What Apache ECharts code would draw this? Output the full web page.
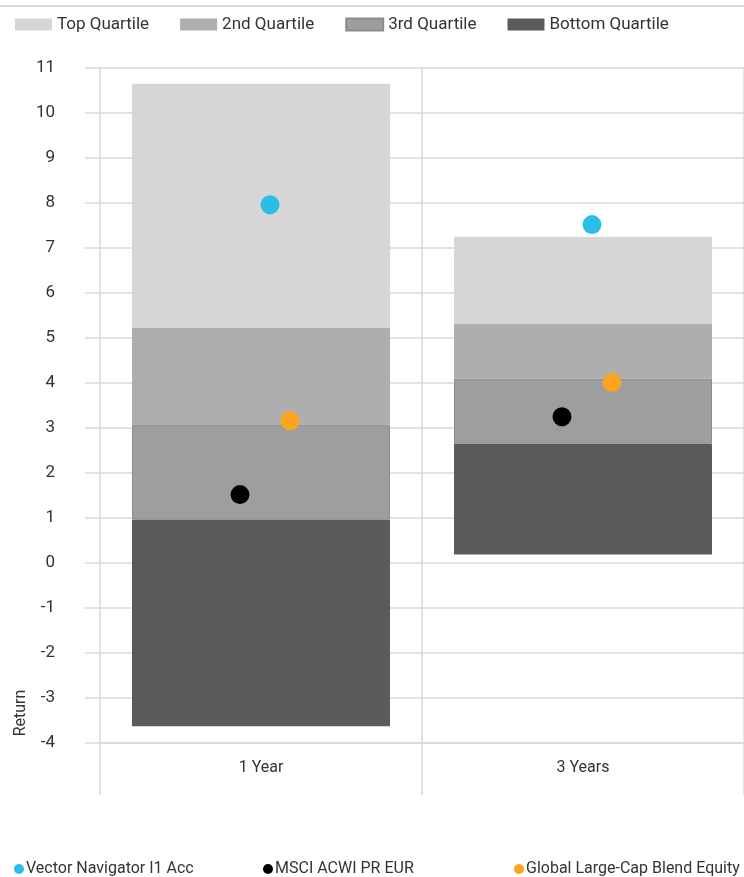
<!DOCTYPE html>
<html>
<head>
<meta charset="utf-8">
<script src="https://cdn.jsdelivr.net/npm/echarts@6/dist/echarts.min.js"></script>
<style>
html,body{margin:0;padding:0;background:#fff;}
#chart{width:744px;height:877px;}
</style>
</head>
<body>
<div id="chart"></div>
<script>
// ---- data ----
const categories = ['1 Year', '3 Years'];
const rangeMin = [-3.63, 0.19];      // bottom of Bottom Quartile
const bottomUpper = [0.96, 2.65];    // Bottom / 3rd boundary
const thirdUpper = [3.08, 4.10];     // 3rd / 2nd boundary
const secondUpper = [5.22, 5.31];    // 2nd / Top boundary
const rangeMax = [10.65, 7.25];      // top of Top Quartile
const fundReturn = [7.96, 7.52];     // Vector Navigator I1 Acc
const indexReturn = [1.52, 3.25];    // MSCI ACWI PR EUR
const peerReturn = [3.16, 4.01];     // Global Large-Cap Blend Equity
const yMin = -4, yMax = 11, yStep = 1;

const FONT = 'Roboto, "Noto Sans", sans-serif';
const TXT = '#333333';
const GRIDC = '#d9d9d9';

const diff = (hi, lo) => hi.map((v, i) => +(v - lo[i]).toFixed(4));

const barBase = { type: 'bar', stack: 'q', stackStrategy: 'all', barWidth: 258, silent: true, emphasis: { disabled: true } };
const bottomLegend = (name, left) => ({
  data: [name], left: left, top: 856, icon: 'circle', itemWidth: 10, itemHeight: 10, itemGap: 0,
  textStyle: { fontFamily: FONT, fontSize: 16, color: TXT, padding: [0, 0, 0, -3] }, selectedMode: false
});

const chart = echarts.init(document.getElementById('chart'), null, { renderer: 'canvas' });
chart.setOption({
  animation: false,
  textStyle: { fontFamily: FONT },
  graphic: [
    { type: 'rect', shape: { x: 0, y: 5, width: 744, height: 2 }, style: { fill: GRIDC }, silent: true },
    { type: 'text', x: 21, y: 713, rotation: Math.PI / 2,
      style: { text: 'Return', font: '16px ' + FONT, fill: TXT, align: 'center', verticalAlign: 'middle' } }
  ],
  legend: [
    { data: ['Top Quartile', '2nd Quartile', '3rd Quartile', 'Bottom Quartile'],
      left: 10, top: 11, icon: 'rect', itemWidth: 37, itemHeight: 12, itemGap: 31,
      textStyle: { fontFamily: FONT, fontSize: 17, color: TXT }, selectedMode: false },
    bottomLegend('Vector Navigator I1 Acc', 9),
    bottomLegend('MSCI ACWI PR EUR', 258),
    bottomLegend('Global Large-Cap Blend Equity', 509)
  ],
  grid: { left: 100, right: 0, top: 68, bottom: 134, containLabel: false },
  xAxis: {
    type: 'category', data: categories, boundaryGap: true,
    axisLine: { show: true, onZero: false, lineStyle: { color: GRIDC, width: 1.5 } },
    axisTick: { show: true, interval: 0, length: 52, lineStyle: { color: GRIDC, width: 1.5 } },
    splitLine: { show: true, interval: 0, lineStyle: { color: GRIDC, width: 1.5 } },
    axisLabel: { fontFamily: FONT, fontSize: 16, color: TXT, margin: 17 }
  },
  yAxis: {
    type: 'value', min: yMin, max: yMax, interval: yStep,
    axisLine: { show: false },
    axisTick: { show: true, length: 15, lineStyle: { color: GRIDC, width: 1.5 } },
    splitLine: { show: true, lineStyle: { color: GRIDC, width: 1.5 } },
    axisLabel: { fontFamily: FONT, fontSize: 17, color: TXT, margin: 45 }
  },
  series: [
    Object.assign({}, barBase, { name: 'base', data: rangeMin, itemStyle: { color: 'transparent' } }),
    Object.assign({}, barBase, { name: 'Bottom Quartile', data: diff(bottomUpper, rangeMin), itemStyle: { color: '#5a5b5d' } }),
    Object.assign({}, barBase, { name: '3rd Quartile', data: diff(thirdUpper, bottomUpper), itemStyle: { color: '#9d9e9f', borderColor: '#8b8c8d', borderWidth: 1 } }),
    Object.assign({}, barBase, { name: '2nd Quartile', data: diff(secondUpper, thirdUpper), itemStyle: { color: '#aeaeaf' } }),
    Object.assign({}, barBase, { name: 'Top Quartile', data: diff(rangeMax, secondUpper), itemStyle: { color: '#d6d6d6' } }),
    { type: 'scatter', name: 'Vector Navigator I1 Acc', data: fundReturn, symbolSize: 19, symbolOffset: [9, 0],
      itemStyle: { color: '#2bbde9', opacity: 1 }, z: 5, silent: true },
    { type: 'scatter', name: 'MSCI ACWI PR EUR', data: indexReturn, symbolSize: 19, symbolOffset: [-21, 0],
      itemStyle: { color: '#000000', opacity: 1 }, z: 5, silent: true },
    { type: 'scatter', name: 'Global Large-Cap Blend Equity', data: peerReturn, symbolSize: 19, symbolOffset: [29, 0],
      itemStyle: { color: '#fca420', opacity: 1 }, z: 5, silent: true }
  ]
});
</script>
</body>
</html>
